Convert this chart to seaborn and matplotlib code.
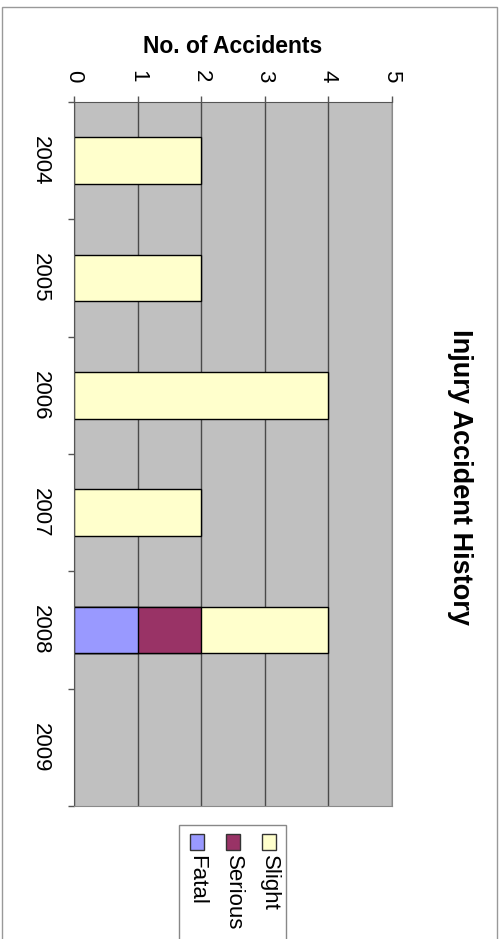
import matplotlib
matplotlib.use("Agg")
import matplotlib.pyplot as plt
import matplotlib.patches as mpatches
import seaborn as sns
import pandas as pd
import numpy as np

# chart data
years = ["2004", "2005", "2006", "2007", "2008", "2009"]
fatal = [0, 0, 0, 0, 1, 0]
serious = [0, 0, 0, 0, 1, 0]
slight = [2, 2, 4, 2, 2, 0]
series_names = ["Slight", "Serious", "Fatal"]
series_colors = ["#FFFFCC", "#993366", "#9999FF"]
value_ticks = [0, 1, 2, 3, 4, 5]

plt.rcParams["font.family"] = ["Liberation Sans", "DejaVu Sans"]

W, H = 503, 939
fig = plt.figure(figsize=(W / 100, H / 100), dpi=100)
ax = fig.add_axes([74 / W, 1 - 806 / H, (392 - 74) / W, (806 - 102) / H])

df = pd.DataFrame({"Year": years, "Fatal": fatal, "Serious": serious, "Slight": slight})
# stacked bars drawn as cumulative layers, biggest first
df["Slight_cum"] = df["Fatal"] + df["Serious"] + df["Slight"]
df["Serious_cum"] = df["Fatal"] + df["Serious"]
df["Fatal_cum"] = df["Fatal"]

for name, color in zip(series_names, series_colors):
    sns.barplot(data=df, x=f"{name}_cum", y="Year", orient="h", color=color,
                saturation=1, width=0.4, edgecolor="black", linewidth=1,
                errorbar=None, ax=ax)

# hide outlines of empty bars
for p in ax.patches:
    if p.get_width() == 0:
        p.set_linewidth(0)

ax.set_facecolor("#C0C0C0")
ax.set_xlim(0, 5)
ax.set_ylim(len(years) - 0.5, -0.5)
ax.xaxis.tick_top()
ax.xaxis.set_label_position("top")
ax.set_xticks(value_ticks, [str(v) for v in value_ticks], rotation=270,
              rotation_mode="anchor", ha="right", va="center", fontsize=16)
ax.set_yticks(range(len(years)), years, rotation=270, rotation_mode="anchor",
              ha="center", va="center", fontsize=16)
ax.set_yticks(np.arange(-0.5, len(years)), minor=True)
ax.tick_params(axis="x", length=4, width=1, color="#555555", pad=10)
ax.tick_params(axis="y", which="major", length=0, pad=24)
ax.tick_params(axis="y", which="minor", length=4.3, width=1, color="#555555")
ax.grid(axis="x", color="#4a4a4a", linewidth=1)
ax.set_axisbelow(True)
ax.set_xlabel("No. of Accidents", fontsize=16.5, fontweight="bold", labelpad=12)
ax.set_ylabel("")
for side in ["top", "left"]:
    ax.spines[side].set_color("#555555")
for side in ["right", "bottom"]:
    ax.spines[side].set_color("#8a8a8a")

# title, rotated like the rest of the chart
fig.text(460 / W, 1 - 477 / H, "Injury Accident History", rotation=270,
         rotation_mode="anchor", ha="center", va="center", fontsize=19.5,
         fontweight="bold")

# outer chart border
fig.add_artist(mpatches.Rectangle((1.5 / W, -0.05), (497 - 1.5) / W, 1.05 - 7 / H,
                                  transform=fig.transFigure, fill=False,
                                  edgecolor="#999999", linewidth=1))

# legend (rotated), built by hand
fig.add_artist(mpatches.Rectangle((179 / W, -0.05), (286 - 179) / W, 1.05 - 825 / H,
                                  transform=fig.transFigure, fill=False,
                                  edgecolor="#888888", linewidth=1))
for xc, name, color in zip([269, 233, 197], series_names, series_colors):
    fig.add_artist(mpatches.Rectangle(((xc - 7) / W, 1 - 850 / H), 14 / W, 16 / H,
                                      transform=fig.transFigure, facecolor=color,
                                      edgecolor="#333333", linewidth=1))
    fig.text(xc / W, 1 - 855 / H, name, rotation=270, rotation_mode="anchor",
             ha="left", va="center", fontsize=16)

fig.savefig("out.png", dpi=100)
